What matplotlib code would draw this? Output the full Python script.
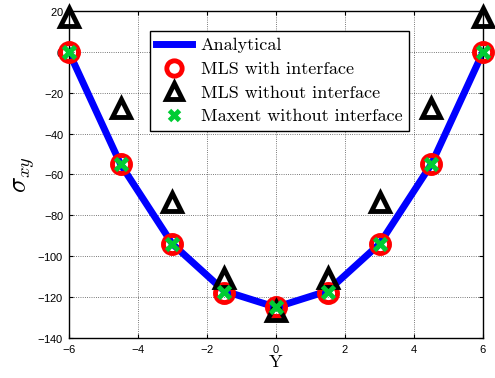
import matplotlib
matplotlib.use('Agg')
import matplotlib.pyplot as plt

plt.rcParams['mathtext.fontset'] = 'cm'
plt.rcParams['axes.formatter.use_mathtext'] = True

# data
y_pos = [-6, -4.5, -3, -1.5, 0, 1.5, 3, 4.5, 6]
analytical = [0, -55, -94, -117, -125, -117, -94, -55, 0]
mls_with = [0, -55, -94, -118, -125, -118, -94, -55, 0]
mls_without = [17, -27.5, -73.5, -110.5, -127, -110.5, -73.5, -27.5, 17]
maxent_without = [0, -55, -94, -117.5, -125, -117.5, -94, -55, 0]

fig = plt.figure(figsize=(4.95, 3.78), dpi=100)
ax = fig.add_axes([0.139, 0.106, 0.837, 0.865])

ax.plot(y_pos, analytical, color='#0000ff', lw=5, label='Analytical', zorder=2)
ax.plot(y_pos, mls_with, 'o', ls='none', ms=13, mfc='none', mec='#ff0000', mew=3.5,
        label='MLS with interface', zorder=3, clip_on=False)
ax.plot(y_pos, mls_without, '^', ls='none', ms=13, mfc='none', mec='black', mew=3.5,
        label='MLS without interface', zorder=4, clip_on=False)
ax.plot(y_pos, maxent_without, 'x', ls='none', ms=9, mec='#00cc33', mew=3.5,
        label='Maxent without interface', zorder=5, clip_on=False)

ax.set_xlim(-6, 6)
ax.set_ylim(-140, 20)
ax.set_xticks([-6, -4, -2, 0, 2, 4, 6])
ax.set_yticks(range(-140, 21, 20))
ax.grid(True, color='black', ls=':', lw=0.6, alpha=0.7)
ax.tick_params(direction='in', top=True, right=True, labelsize=8, length=3)
for lbl in ax.get_xticklabels() + ax.get_yticklabels():
    lbl.set_family('Liberation Sans')
for s in ax.spines.values():
    s.set_linewidth(1.0)

ax.set_xlabel('Y', fontfamily='cmr10', fontsize=13, labelpad=0)
ax.set_ylabel(r'$\sigma_{xy}$', fontsize=19, labelpad=0)

leg = ax.legend(loc='upper left', bbox_to_anchor=(0.196, 0.938), prop={'family': 'cmr10', 'size': 13},
                fancybox=False, edgecolor='black', framealpha=1, borderpad=0.35,
                labelspacing=0.45, handlelength=2.0, handletextpad=0.45, borderaxespad=0,
                markerscale=0.85)
leg.get_frame().set_linewidth(1.0)

fig.savefig('out.png', dpi=100)
